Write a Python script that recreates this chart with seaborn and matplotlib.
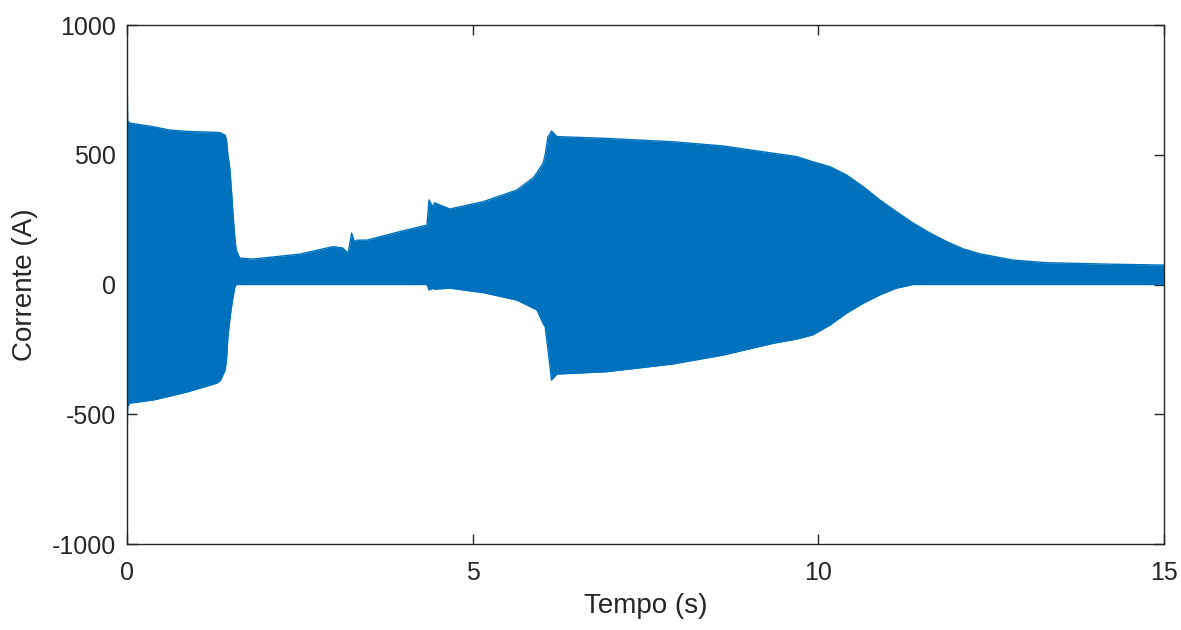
import matplotlib
matplotlib.use("Agg")
import matplotlib.pyplot as plt
import seaborn as sns
import pandas as pd

# Envelope of the phase current (A) versus time (s)
tempo = [0.000, 0.010, 0.040, 0.38, 0.62, 0.87, 1.30, 1.35, 1.42, 1.44, 1.46, 1.49,
         1.52, 1.54, 1.56, 1.58, 1.63, 1.82, 2.50, 2.98, 3.12, 3.20, 3.25, 3.29,
         3.33, 3.47, 3.95, 4.34, 4.37, 4.42, 4.45, 4.67, 5.15, 5.64, 5.87, 5.93,
         6.02, 6.05, 6.09, 6.12, 6.14, 6.22, 6.94, 7.90, 8.62, 9.34, 9.69, 9.92,
         10.17, 10.41, 10.65, 10.89, 11.13, 11.37, 11.62, 11.86, 12.10, 12.34,
         12.82, 13.30, 14.27, 15.00]
corrente_max = [870, 630, 622, 608, 595, 590, 586, 585, 575, 557, 500, 441,
                330, 249, 180, 133, 102, 98, 117, 146, 141, 121, 198, 165,
                171, 171, 204, 229, 326, 300, 315, 291, 319, 364, 410, 430,
                468, 500, 570, 580, 592, 570, 563, 550, 534, 506, 493, 473,
                454, 422, 377, 326, 281, 237, 198, 165, 137, 118,
                94, 84, 78, 75]
corrente_min = [-640, -470, -457, -445, -430, -414, -380, -370, -330, -290, -202, -130,
                -71, -40, -10, 0, 0, 0, 0, 0, 0, 0, 0, 0,
                0, 0, 0, 0, -21, -15, -18, -14, -31, -60, -90, -98,
                -150, -163, -250, -317, -368, -345, -336, -306, -272, -227, -210, -194,
                -156, -110, -72, -40, -14, 0, 0, 0, 0, 0,
                0, 0, 0, 0]

x_ticks = [0, 5, 10, 15]
y_ticks = [-1000, -500, 0, 500, 1000]

df = pd.DataFrame({"t": tempo, "imax": corrente_max, "imin": corrente_min})

sns.set_theme(style="white")
plt.rcParams["font.family"] = ["Liberation Sans", "DejaVu Sans"]
ink = "#262626"
blue = "#0072BD"

fig = plt.figure(figsize=(11.81, 6.30), dpi=100)
ax = fig.add_axes([0.1075, 0.1365, 0.878, 0.8238])

ax.fill_between(df["t"], df["imin"], df["imax"], color=blue, linewidth=0)
sns.lineplot(data=df, x="t", y="imax", ax=ax, color=blue, linewidth=1.0)
sns.lineplot(data=df, x="t", y="imin", ax=ax, color=blue, linewidth=1.0)

ax.set_xlim(0, 15)
ax.set_ylim(-1000, 1000)
ax.set_xticks(x_ticks)
ax.set_yticks(y_ticks)
ax.set_xticklabels([str(v) for v in x_ticks])
ax.set_yticklabels([str(v) for v in y_ticks])
ax.set_xlabel("Tempo (s)", fontsize=20, color=ink, labelpad=6)
ax.set_ylabel("Corrente (A)", fontsize=20, color=ink, labelpad=10)

ax.tick_params(axis="both", which="both", direction="in", length=7, width=1.0,
               colors=ink, labelsize=18, top=True, right=True,
               bottom=True, left=True)
ax.tick_params(axis="x", pad=12)
ax.tick_params(axis="y", pad=8)
for s in ax.spines.values():
    s.set_visible(True)
    s.set_color(ink)
    s.set_linewidth(1.0)
ax.grid(False)

fig.savefig("out.png", dpi=100, facecolor="white")
